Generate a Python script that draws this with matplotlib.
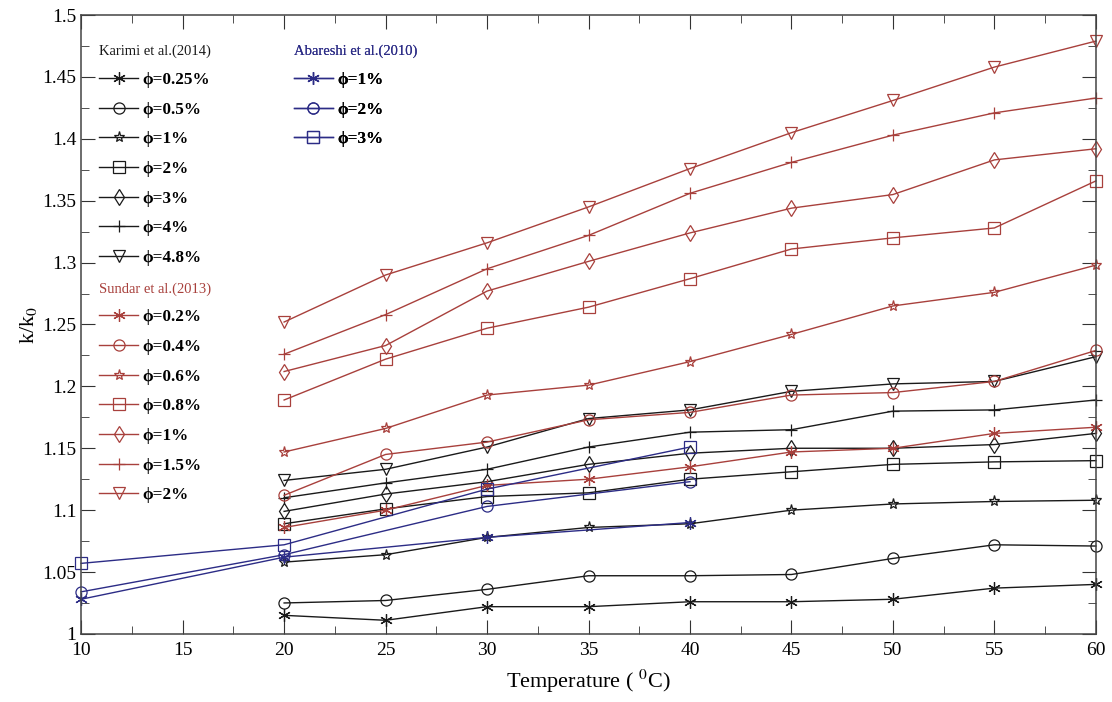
import matplotlib
matplotlib.use("Agg")
from matplotlib import pyplot as plt
from matplotlib.ticker import MultipleLocator, FuncFormatter

plt.rcParams['font.family'] = ['Liberation Serif', 'DejaVu Serif']
plt.rcParams['mathtext.fontset'] = 'stix'

# Karimi et al.(2014)
t_karimi = [20, 25, 30, 35, 40, 45, 50, 55, 60]
karimi_labels = ['ϕ=0.25%', 'ϕ=0.5%', 'ϕ=1%', 'ϕ=2%', 'ϕ=3%', 'ϕ=4%', 'ϕ=4.8%']
karimi_025 = [1.015, 1.011, 1.022, 1.022, 1.026, 1.026, 1.028, 1.037, 1.040]
karimi_05 = [1.025, 1.027, 1.036, 1.047, 1.047, 1.048, 1.061, 1.072, 1.071]
karimi_1 = [1.058, 1.064, 1.078, 1.086, 1.089, 1.100, 1.105, 1.107, 1.108]
karimi_2 = [1.089, 1.101, 1.111, 1.114, 1.125, 1.131, 1.137, 1.139, 1.140]
karimi_3 = [1.099, 1.113, 1.123, 1.137, 1.146, 1.150, 1.150, 1.153, 1.162]
karimi_4 = [1.110, 1.122, 1.133, 1.151, 1.163, 1.165, 1.180, 1.181, 1.189]
karimi_48 = [1.124, 1.133, 1.151, 1.174, 1.181, 1.196, 1.202, 1.204, 1.224]

# Sundar et al.(2013)
t_sundar = [20, 25, 30, 35, 40, 45, 50, 55, 60]
sundar_labels = ['ϕ=0.2%', 'ϕ=0.4%', 'ϕ=0.6%', 'ϕ=0.8%', 'ϕ=1%', 'ϕ=1.5%', 'ϕ=2%']
sundar_02 = [1.086, 1.100, 1.120, 1.125, 1.135, 1.147, 1.150, 1.162, 1.167]
sundar_04 = [1.112, 1.145, 1.155, 1.173, 1.179, 1.193, 1.195, 1.204, 1.229]
sundar_06 = [1.147, 1.166, 1.193, 1.201, 1.220, 1.242, 1.265, 1.276, 1.298]
sundar_08 = [1.189, 1.222, 1.247, 1.264, 1.287, 1.311, 1.320, 1.328, 1.366]
sundar_1 = [1.212, 1.233, 1.277, 1.301, 1.324, 1.344, 1.355, 1.383, 1.392]
sundar_15 = [1.226, 1.258, 1.295, 1.322, 1.356, 1.381, 1.403, 1.421, 1.433]
sundar_2 = [1.252, 1.290, 1.316, 1.345, 1.376, 1.405, 1.431, 1.458, 1.479]

# Abareshi et al.(2010)
t_abareshi = [10, 20, 30, 40]
abareshi_labels = ['ϕ=1%', 'ϕ=2%', 'ϕ=3%']
abareshi_1 = [1.028, 1.062, 1.078, 1.090]
abareshi_2 = [1.034, 1.064, 1.103, 1.123]
abareshi_3 = [1.057, 1.072, 1.117, 1.151]

black = '#1a1a1a'
red = '#a8403c'
blue = '#2c2c86'
asterisk = (6, 2, 0)
markers = [asterisk, 'o', '*', 's', 'd', '+', 'v']

fig = plt.figure(figsize=(11.12, 7.02), dpi=100)
ax = fig.add_axes([0.073, 0.097, 0.9125, 0.8815])

def draw(t, series, labels, color, mks):
    lines = []
    for ys, lab, m in zip(series, labels, mks):
        ln, = ax.plot(t, ys, color=color, lw=1.0, marker=m, ms=9 if m == asterisk else 8,
                      mfc='none', mec=color, mew=0.9, label=lab, clip_on=False)
        lines.append(ln)
    return lines

k_lines = draw(t_karimi, [karimi_025, karimi_05, karimi_1, karimi_2, karimi_3, karimi_4, karimi_48],
               karimi_labels, black, markers)
s_lines = draw(t_sundar, [sundar_02, sundar_04, sundar_06, sundar_08, sundar_1, sundar_15, sundar_2],
               sundar_labels, red, markers)
a_lines = draw(t_abareshi, [abareshi_1, abareshi_2, abareshi_3], abareshi_labels, blue,
               [asterisk, 'o', 's'])

def add_legend(lines, title, tcolor, anchor):
    leg = ax.legend(handles=lines, title=title, loc='upper left', bbox_to_anchor=anchor,
                    bbox_transform=fig.transFigure, frameon=False, handlelength=2.3,
                    handletextpad=0.25, labelspacing=0.8, borderaxespad=0,
                    prop={'size': 12.3, 'weight': 'bold'}, title_fontsize=10.5,
                    alignment='left')
    leg.get_title().set_color(tcolor)
    ax.add_artist(leg)
    return leg

add_legend(k_lines, 'Karimi et al.(2014)', black, (0.083, 0.946))
add_legend(s_lines, 'Sundar et al.(2013)', red, (0.083, 0.608))
add_legend(a_lines, 'Abareshi et al.(2010)', blue, (0.258, 0.946))

ax.set_xlim(10, 60)
ax.set_ylim(1, 1.5)
ax.xaxis.set_major_locator(MultipleLocator(5))
ax.xaxis.set_minor_locator(MultipleLocator(2.5))
ax.yaxis.set_major_locator(MultipleLocator(0.05))
ax.yaxis.set_minor_locator(MultipleLocator(0.025))
ax.yaxis.set_major_formatter(FuncFormatter(lambda v, p: ('%.2f' % v).rstrip('0').rstrip('.')))
ax.tick_params(which='both', direction='in', top=True, right=True, labelsize=14, color='#333333')
ax.tick_params(axis='x', pad=6)
ax.tick_params(which='major', length=10)
ax.tick_params(which='minor', length=6)
for s in ax.spines.values():
    s.set_color('#444444')
    s.set_linewidth(1.1)

ax.set_xlabel('Temperature ( $^0$C)', fontsize=16, labelpad=6)
ax.set_ylabel('k/k$_0$', fontsize=16, labelpad=2)

plt.savefig('out.png', dpi=100)
